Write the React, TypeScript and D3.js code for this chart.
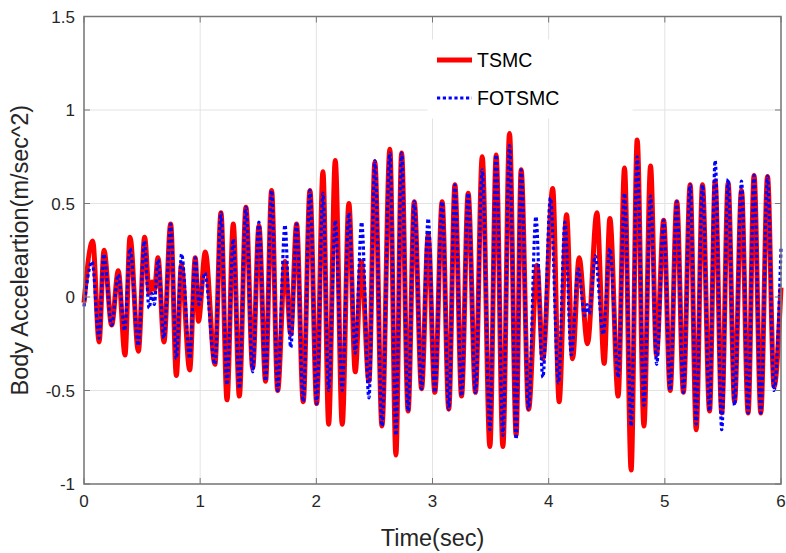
import React from 'react';
import * as d3 from 'd3';

const tsmcTimes = [0.0, 0.075, 0.13, 0.172, 0.238, 0.295, 0.353, 0.396, 0.468, 0.522, 0.562, 0.587, 0.607, 0.637, 0.688, 0.746, 0.795, 0.838, 0.91, 0.958, 0.985, 1.044, 1.127, 1.179, 1.231, 1.285, 1.337, 1.394, 1.452, 1.506, 1.563, 1.615, 1.667, 1.73, 1.78, 1.83, 1.887, 1.945, 2.003, 2.057, 2.106, 2.163, 2.223, 2.28, 2.335, 2.387, 2.453, 2.504, 2.565, 2.633, 2.685, 2.734, 2.79, 2.843, 2.906, 2.963, 3.02, 3.083, 3.14, 3.193, 3.25, 3.307, 3.37, 3.428, 3.494, 3.548, 3.606, 3.663, 3.72, 3.763, 3.827, 3.9, 3.95, 4.035, 4.09, 4.154, 4.206, 4.262, 4.334, 4.415, 4.478, 4.527, 4.598, 4.653, 4.71, 4.762, 4.82, 4.877, 4.928, 4.99, 5.046, 5.103, 5.16, 5.218, 5.27, 5.324, 5.385, 5.433, 5.49, 5.545, 5.6, 5.66, 5.717, 5.768, 5.826, 5.884, 5.94, 6.0];
const tsmcValues = [-0.03, 0.3, -0.24, 0.25, -0.15, 0.14, -0.31, 0.32, -0.29, 0.32, 0.02, 0.08, 0.04, 0.21, -0.24, 0.39, -0.42, 0.17, -0.39, 0.21, -0.13, 0.24, -0.36, 0.45, -0.55, 0.39, -0.53, 0.48, -0.38, 0.38, -0.45, 0.57, -0.5, 0.19, -0.2, 0.39, -0.56, 0.57, -0.57, 0.67, -0.68, 0.73, -0.68, 0.5, -0.4, 0.19, -0.45, 0.72, -0.69, 0.79, -0.845, 0.77, -0.61, 0.51, -0.49, 0.33, -0.51, 0.51, -0.6, 0.6, -0.53, 0.555, -0.51, 0.75, -0.8, 0.76, -0.8, 0.875, -0.74, 0.68, -0.6, 0.17, -0.33, 0.58, -0.56, 0.44, -0.33, 0.21, -0.25, 0.45, -0.355, 0.42, -0.53, 0.69, -0.925, 0.84, -0.69, 0.7, -0.31, 0.41, -0.5, 0.51, -0.51, 0.6, -0.71, 0.6, -0.61, 0.62, -0.62, 0.61, -0.56, 0.57, -0.62, 0.65, -0.62, 0.645, -0.48, 0.05];

const fotsmcTimes = [0.0, 0.07, 0.13, 0.17, 0.238, 0.295, 0.35, 0.396, 0.468, 0.52, 0.56, 0.585, 0.605, 0.637, 0.688, 0.746, 0.795, 0.84, 0.91, 0.958, 0.99, 1.04, 1.127, 1.179, 1.231, 1.285, 1.337, 1.394, 1.452, 1.506, 1.563, 1.615, 1.667, 1.73, 1.78, 1.83, 1.887, 1.945, 2.003, 2.057, 2.106, 2.163, 2.223, 2.28, 2.335, 2.39, 2.453, 2.504, 2.565, 2.633, 2.685, 2.734, 2.79, 2.843, 2.906, 2.963, 3.02, 3.083, 3.14, 3.193, 3.25, 3.307, 3.37, 3.428, 3.494, 3.548, 3.606, 3.663, 3.72, 3.763, 3.827, 3.89, 3.95, 4.015, 4.085, 4.14, 4.195, 4.255, 4.31, 4.33, 4.35, 4.4, 4.47, 4.527, 4.598, 4.653, 4.71, 4.762, 4.82, 4.877, 4.93, 4.99, 5.046, 5.103, 5.16, 5.218, 5.27, 5.324, 5.385, 5.433, 5.49, 5.545, 5.6, 5.66, 5.717, 5.768, 5.826, 5.884, 5.94, 6.0];
const fotsmcValues = [-0.05, 0.19, -0.22, 0.23, -0.15, 0.12, -0.18, 0.26, -0.26, 0.3, -0.06, 0.02, -0.04, 0.2, -0.22, 0.39, -0.33, 0.23, -0.33, 0.21, -0.04, 0.13, -0.36, 0.45, -0.47, 0.31, -0.49, 0.48, -0.4, 0.4, -0.45, 0.57, -0.5, 0.385, -0.27, 0.39, -0.56, 0.57, -0.57, 0.555, -0.5, 0.41, -0.5, 0.45, -0.3, 0.4, -0.54, 0.73, -0.69, 0.77, -0.74, 0.77, -0.61, 0.51, -0.49, 0.42, -0.51, 0.51, -0.6, 0.6, -0.53, 0.555, -0.51, 0.68, -0.71, 0.76, -0.74, 0.81, -0.76, 0.68, -0.6, 0.43, -0.43, 0.53, -0.46, 0.4, -0.31, 0.15, -0.1, -0.04, -0.09, 0.22, -0.2, 0.26, -0.43, 0.555, -0.69, 0.75, -0.58, 0.54, -0.36, 0.41, -0.5, 0.51, -0.51, 0.6, -0.68, 0.6, -0.61, 0.73, -0.71, 0.63, -0.58, 0.62, -0.62, 0.65, -0.62, 0.645, -0.5, 0.26];

const xTicks = [0, 1, 2, 3, 4, 5, 6];
const xTickLabels = ['0', '1', '2', '3', '4', '5', '6'];
const yTicks = [-1, -0.5, 0, 0.5, 1, 1.5];
const yTickLabels = ['-1', '-0.5', '0', '0.5', '1', '1.5'];
const seriesNames = ['TSMC', 'FOTSMC'];
const xLabel = 'Time(sec)';
const yLabel = 'Body Acceleartion(m/sec^2)';

const W = 786;
const H = 553;
const left = 84;
const right = 781;
const top = 16.5;
const bottom = 484;
const font = "'Liberation Sans', Arial, sans-serif";

export default function App() {
  const x = d3.scaleLinear().domain([0, 6]).range([left, right]);
  const y = d3.scaleLinear().domain([-1, 1.5]).range([bottom, top]);
  const line = d3
    .line<[number, number]>()
    .x((d) => x(d[0]))
    .y((d) => y(d[1]))
    .curve(d3.curveMonotoneX);
  const red: [number, number][] = tsmcTimes.map((t, i) => [t, tsmcValues[i]]);
  const blue: [number, number][] = fotsmcTimes.map((t, i) => [t, fotsmcValues[i]]);
  const axisColor = '#262626';
  const gridColor = '#e3e3e3';
  const tickLen = 6;
  const legX = 428;
  const legY = 40;
  return (
    <svg width={W} height={H} style={{ position: 'absolute', left: 0, top: 0, background: '#fff' }}>
      <rect x={0} y={0} width={W} height={H} fill="#fff" />
      {xTicks.map((t) => (
        <line key={'gx' + t} x1={x(t)} x2={x(t)} y1={top} y2={bottom} stroke={gridColor} strokeWidth={1} />
      ))}
      {yTicks.map((t) => (
        <line key={'gy' + t} x1={left} x2={right} y1={y(t)} y2={y(t)} stroke={gridColor} strokeWidth={1} />
      ))}
      <path d={line(red) || ''} fill="none" stroke="#ff0000" strokeWidth={5} strokeLinejoin="round" />
      <path d={line(blue) || ''} fill="none" stroke="#0000ff" strokeWidth={3.2} strokeDasharray="3.2,2.6" />
      <rect x={legX} y={legY} width={204} height={78} fill="#fff" stroke="#fff" />
      <line x1={legX + 9} x2={legX + 44} y1={legY + 20} y2={legY + 20} stroke="#ff0000" strokeWidth={5} />
      <text x={legX + 49} y={legY + 27} fontFamily={font} fontSize={19.5} fill="#000">{seriesNames[0]}</text>
      <line x1={legX + 9} x2={legX + 44} y1={legY + 58} y2={legY + 58} stroke="#0000ff" strokeWidth={3.2} strokeDasharray="3.2,2.6" />
      <text x={legX + 49} y={legY + 65} fontFamily={font} fontSize={19.5} fill="#000">{seriesNames[1]}</text>
      <rect x={left} y={top} width={right - left} height={bottom - top} fill="none" stroke="#777" strokeWidth={1.5} />
      {xTicks.map((t) => (
        <g key={'tx' + t}>
          <line x1={x(t)} x2={x(t)} y1={bottom} y2={bottom - tickLen} stroke="#777" />
          <line x1={x(t)} x2={x(t)} y1={top} y2={top + tickLen} stroke="#777" />
        </g>
      ))}
      {yTicks.map((t) => (
        <g key={'ty' + t}>
          <line x1={left} x2={left + tickLen} y1={y(t)} y2={y(t)} stroke="#777" />
          <line x1={right} x2={right - tickLen} y1={y(t)} y2={y(t)} stroke="#777" />
        </g>
      ))}
      {xTicks.map((t, i) => (
        <text key={'lx' + t} x={x(t)} y={bottom + 23} textAnchor="middle" fontFamily={font} fontSize={17} fill={axisColor}>
          {xTickLabels[i]}
        </text>
      ))}
      {yTicks.map((t, i) => (
        <text key={'ly' + t} x={left - 9} y={y(t) + 6} textAnchor="end" fontFamily={font} fontSize={17} fill={axisColor}>
          {yTickLabels[i]}
        </text>
      ))}
      <text x={(left + right) / 2} y={bottom + 62} textAnchor="middle" fontFamily={font} fontSize={23.5} fill={axisColor}>
        {xLabel}
      </text>
      <text
        transform={`translate(28, ${(top + bottom) / 2}) rotate(-90)`}
        textAnchor="middle"
        fontFamily={font}
        fontSize={23.5}
        fill={axisColor}
      >
        {yLabel}
      </text>
    </svg>
  );
}
